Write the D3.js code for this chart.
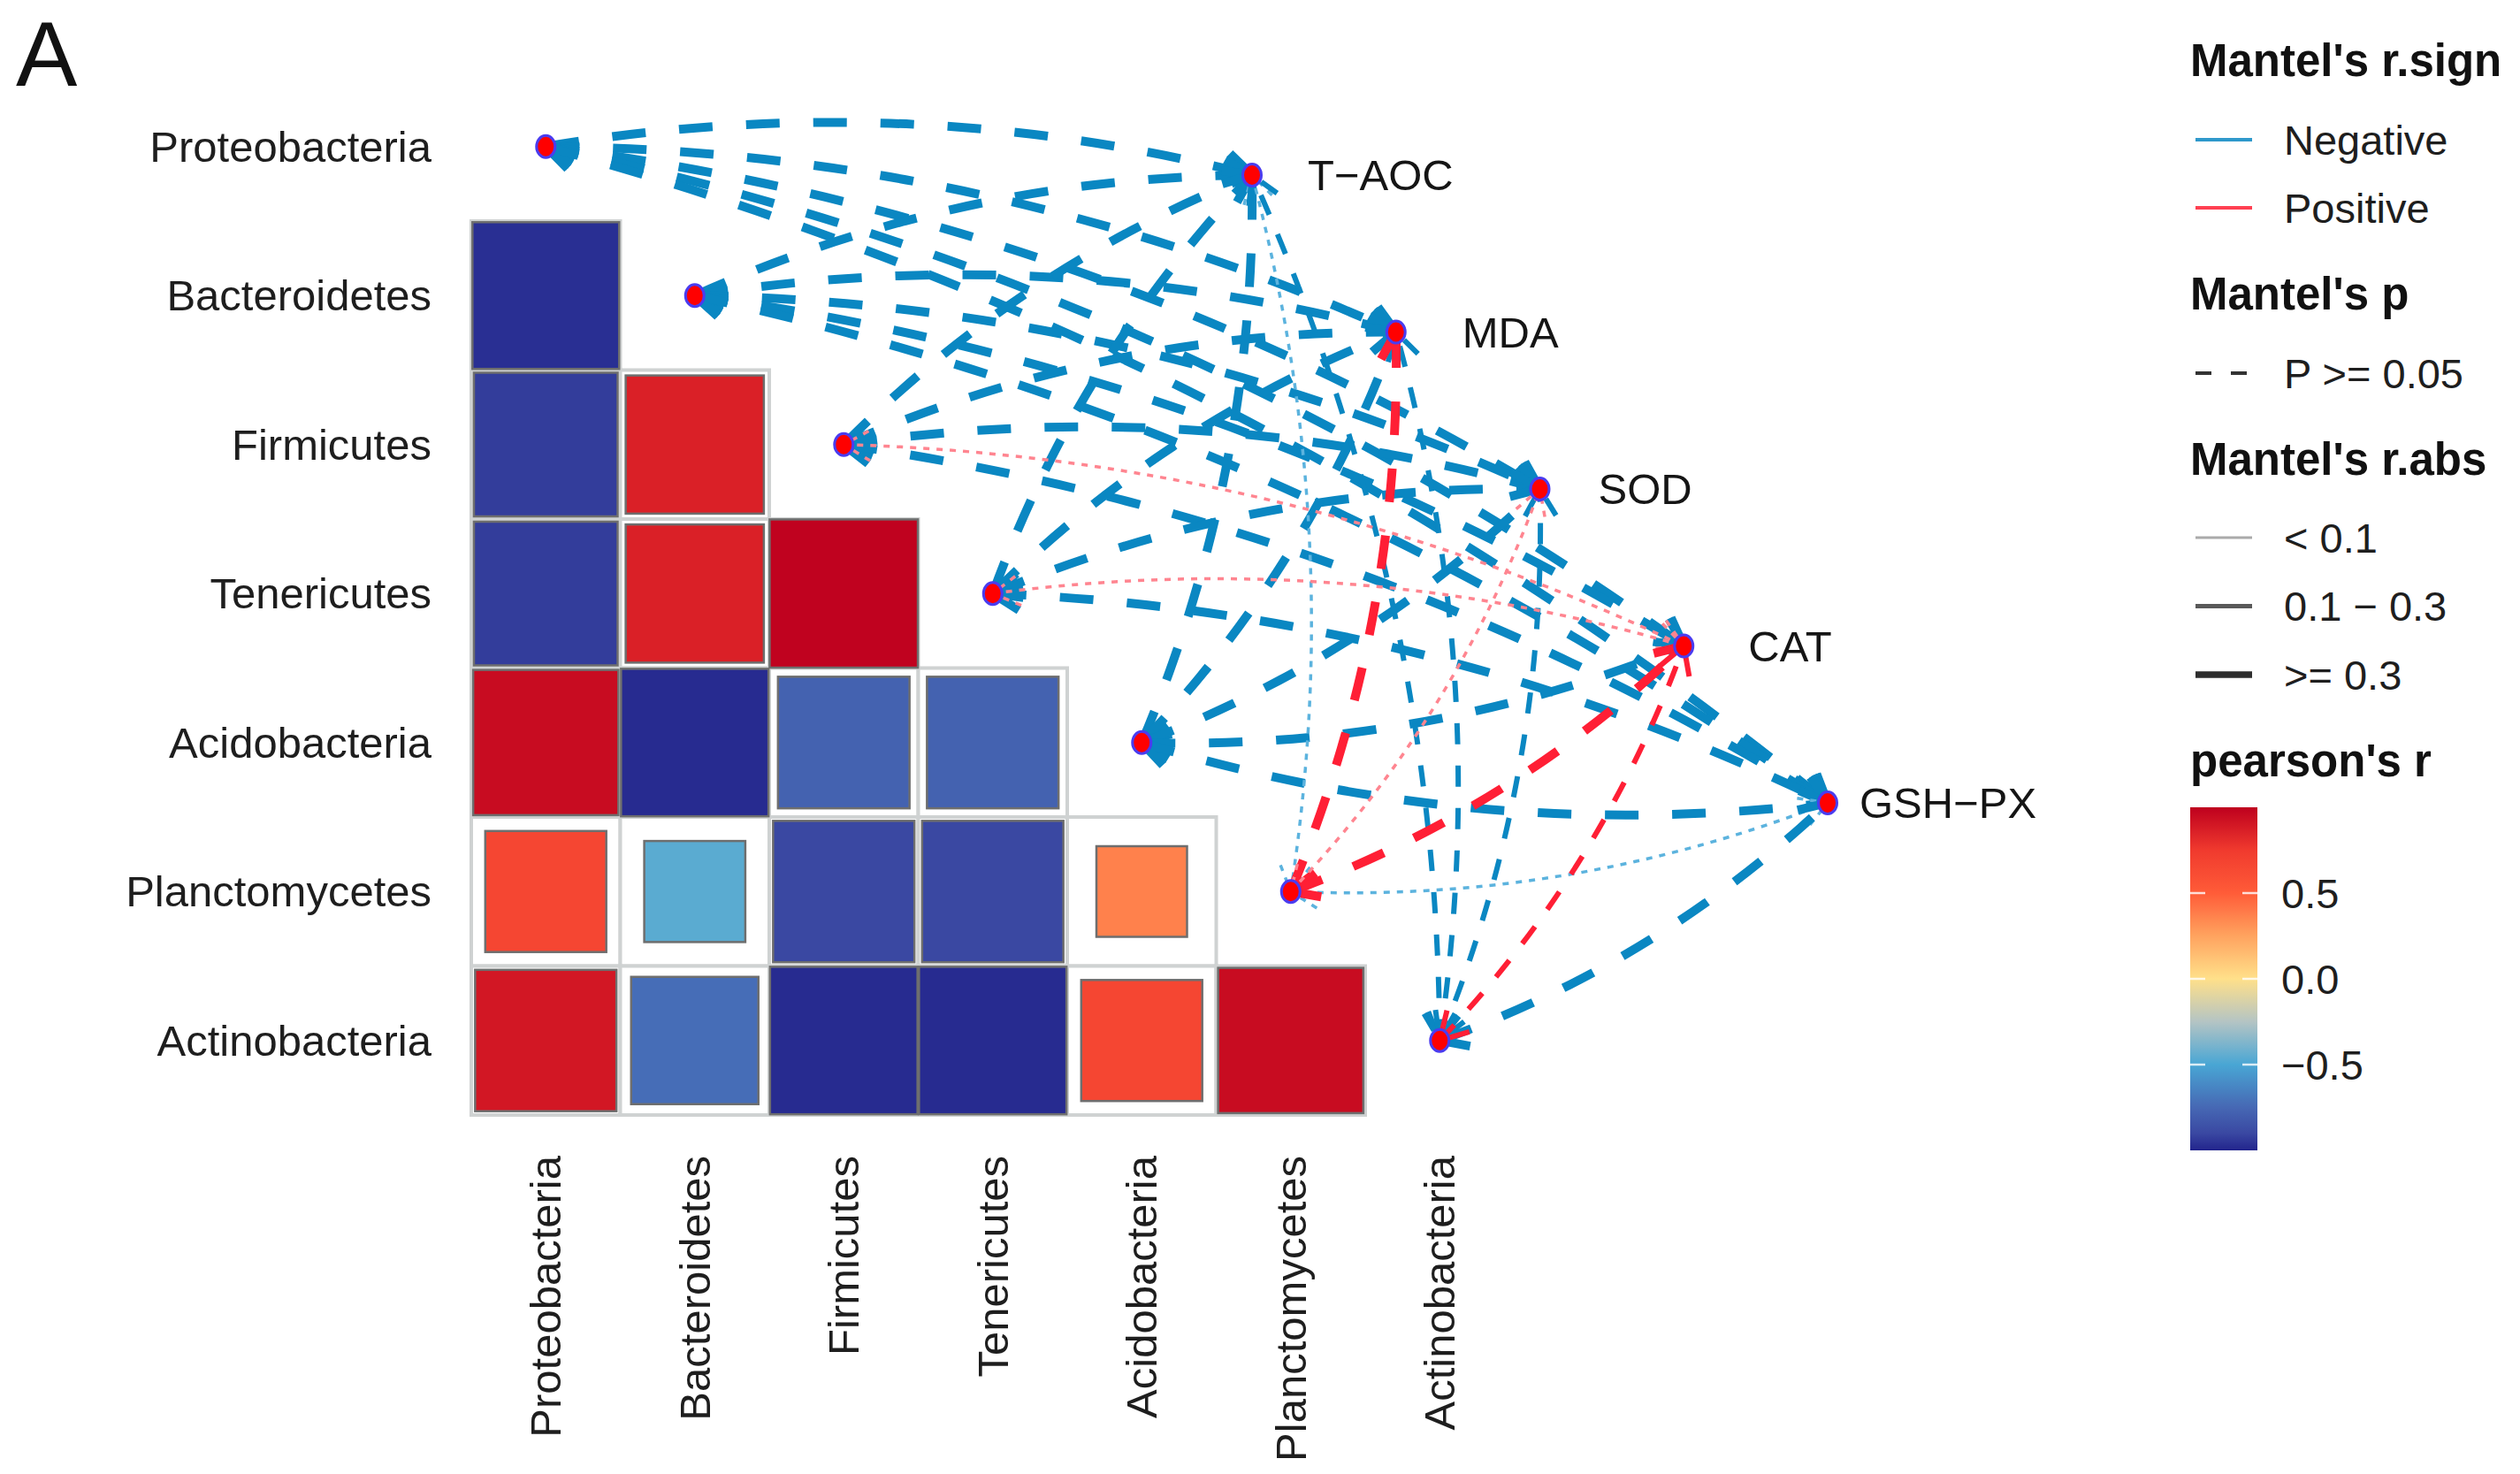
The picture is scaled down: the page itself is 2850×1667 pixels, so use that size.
<!DOCTYPE html>
<html>
<head>
<meta charset="utf-8">
<script src="https://cdn.jsdelivr.net/npm/d3@7"></script>
<style>
	body { margin: 0; background: #fff; }
	svg { display: block; font-family: "Liberation Sans", Arial, sans-serif; }
</style>
</head>
<body>
<svg id="chart" width="2850" height="1667"></svg>
<script>
var species = ["Proteobacteria", "Bacteroidetes", "Firmicutes", "Tenericutes", "Acidobacteria", "Planctomycetes", "Actinobacteria"];
var envFactors = ["T\u2212AOC", "MDA", "SOD", "CAT", "GSH\u2212PX"];

// pearson's r, lower triangle (row species x column species)
var corrRows = [
	[],
	[-0.97],
	[-0.93, 0.86],
	[-0.93, 0.86, 0.99],
	[0.95, -0.98, -0.78, -0.78],
	[0.66, -0.46, -0.90, -0.90, 0.37],
	[0.90, -0.73, -0.98, -0.98, 0.66, 0.95]
];

// mantel tests: one row per species, one entry per env factor
var signLabels = ["Negative", "Positive"];
var absLabels = ["< 0.1", "0.1 \u2212 0.3", ">= 0.3"];
var pLabels = ["P >= 0.05"];
var mantelSign = [
	[0, 0, 0, 0, 0],
	[0, 0, 0, 0, 0],
	[0, 0, 0, 1, 0],
	[0, 0, 0, 1, 0],
	[0, 0, 0, 0, 0],
	[0, 1, 1, 1, 0],
	[0, 0, 0, 1, 0]
];
var mantelAbs = [
	[2, 2, 2, 2, 2],
	[2, 2, 2, 2, 2],
	[2, 2, 2, 0, 2],
	[2, 2, 2, 0, 2],
	[2, 2, 2, 2, 2],
	[0, 2, 0, 2, 0],
	[1, 1, 1, 1, 2]
];
var colorTicks = [0.5, 0.0, -0.5];

(function(d3) {
	'use strict';

	var svg = d3.select('#chart');
	var cell = 168.5;
	var envLabelDx = [63, 75, 66, 73, 36];

	/** scales */
	var xBand = d3.scaleBand().domain(species).range([533, 533 + cell * species.length]);
	var yBand = d3.scaleBand().domain(species).range([81.5, 81.5 + cell * species.length]);
	var envX = d3.scalePoint().domain(envFactors).range([1416, 2067]);
	var envY = d3.scalePoint().domain(envFactors).range([198, 908]);
	var fill = d3.scaleLinear()
		.domain([-1, -0.9, -0.75, -0.5, -0.25, 0, 0.25, 0.5, 0.75, 1])
		.range(["#22248c", "#3a48a2", "#4668b4", "#49a6d4", "#b4c4c4", "#ffe08a", "#ffa35f", "#ff5c38", "#f03a2e", "#be001e"])
		.interpolate(d3.interpolateRgb).clamp(true);
	var side = d3.scaleSqrt().domain([0, 1]).range([0, cell]);
	var lineWidth = d3.scaleOrdinal().domain(absLabels).range([3.5, 6, 10]);
	var lineDash = d3.scaleOrdinal().domain(absLabels).range(["7,8", "24,24", "38,38"]);
	var lineColor = d3.scaleOrdinal().domain(signLabels).range(["#0a87c2", "#ff1f35"]);
	var thinColor = d3.scaleOrdinal().domain(signLabels).range(["#5cb3de", "#ff8590"]);

	var cx = function(s) { return xBand(s) + xBand.bandwidth() / 2; };
	var cy = function(s) { return yBand(s) + yBand.bandwidth() / 2; };

	/** panel label */
	svg.append('text').attr('x', 18).attr('y', 97).attr('font-size', 104).attr('fill', '#111').text('A');

	/** heatmap */
	var cells = [];
	corrRows.forEach(function(row, i) {
		row.forEach(function(r, j) {
			cells.push({ row: species[i], col: species[j], r: r });
		});
	});
	var heat = svg.append('g');
	heat.selectAll('rect.bg').data(cells).enter().append('rect')
		.attr('class', 'bg')
		.attr('x', function(d) { return xBand(d.col); })
		.attr('y', function(d) { return yBand(d.row); })
		.attr('width', cell).attr('height', cell)
		.attr('fill', '#fff').attr('stroke', '#cfd2d2').attr('stroke-width', 4);
	heat.selectAll('rect.sq').data(cells).enter().append('rect')
		.attr('class', 'sq')
		.attr('x', function(d) { return cx(d.col) - side(Math.abs(d.r)) / 2; })
		.attr('y', function(d) { return cy(d.row) - side(Math.abs(d.r)) / 2; })
		.attr('width', function(d) { return side(Math.abs(d.r)); })
		.attr('height', function(d) { return side(Math.abs(d.r)); })
		.attr('fill', function(d) { return fill(d.r); })
		.attr('stroke', '#6e6e6e').attr('stroke-width', 2.5);

	/** axis labels */
	svg.append('g').selectAll('text').data(species).enter().append('text')
		.attr('x', 488).attr('y', cy)
		.attr('text-anchor', 'end').attr('dominant-baseline', 'central')
		.attr('font-size', 49).attr('fill', '#1e1e1e')
		.text(function(d) { return d; });
	svg.append('g').selectAll('text').data(species).enter().append('text')
		.attr('transform', function(d) { return 'translate(' + cx(d) + ',1307) rotate(-90)'; })
		.attr('text-anchor', 'end').attr('dominant-baseline', 'central')
		.attr('font-size', 49).attr('fill', '#1e1e1e')
		.text(function(d) { return d; });

	/** mantel links */
	var links = [];
	mantelSign.forEach(function(row, i) {
		row.forEach(function(sign, j) {
			links.push({ spec: species[i], specIndex: i, env: envFactors[j], sign: signLabels[sign], abs: absLabels[mantelAbs[i][j]] });
		});
	});
	links.sort(function(a, b) { return d3.ascending(a.sign, b.sign); });

	var geometry = function(d) {
		var x0 = cx(d.spec), y0 = cy(d.spec), x1 = envX(d.env), y1 = envY(d.env);
		var dx = x1 - x0, dy = y1 - y0;
		// upper species bend to the left of their travel, lower ones to the right
		var k = d.specIndex < 4 ? 0.105 : -0.105;
		var qx = (x0 + x1) / 2 + dy * k, qy = (y0 + y1) / 2 - dx * k;
		return { x0: x0, y0: y0, x1: x1, y1: y1, qx: qx, qy: qy };
	};
	var curvePath = function(d) {
		var g = geometry(d);
		var p = d3.path();
		p.moveTo(g.x0, g.y0);
		p.quadraticCurveTo(g.qx, g.qy, g.x1, g.y1);
		return p.toString();
	};
	var arrowPath = function(tx, ty, fx, fy) {
		var a = Math.atan2(fy - ty, fx - tx), l = 35, w = Math.PI / 6;
		var p = d3.path();
		p.moveTo(tx + l * Math.cos(a + w), ty + l * Math.sin(a + w));
		p.lineTo(tx, ty);
		p.lineTo(tx + l * Math.cos(a - w), ty + l * Math.sin(a - w));
		return p.toString();
	};
	var strokeOf = function(d) { return d.abs === absLabels[0] ? thinColor(d.sign) : lineColor(d.sign); };

	var linkGroups = svg.append('g').selectAll('g').data(links).enter().append('g')
		.attr('fill', 'none')
		.attr('stroke', strokeOf)
		.attr('stroke-width', function(d) { return lineWidth(d.abs); })
		.attr('stroke-dasharray', function(d) { return lineDash(d.abs); });
	linkGroups.append('path').attr('d', curvePath);
	linkGroups.append('path').attr('d', function(d) {
		var g = geometry(d);
		return arrowPath(g.x0, g.y0, g.qx, g.qy);
	});
	linkGroups.append('path').attr('d', function(d) {
		var g = geometry(d);
		return arrowPath(g.x1, g.y1, g.qx, g.qy);
	});

	/** nodes */
	var nodes = species.map(function(s) { return { x: cx(s), y: cy(s) }; })
		.concat(envFactors.map(function(e) { return { x: envX(e), y: envY(e) }; }));
	svg.append('g').selectAll('ellipse').data(nodes).enter().append('ellipse')
		.attr('cx', function(d) { return d.x; }).attr('cy', function(d) { return d.y; })
		.attr('rx', 10.5).attr('ry', 12.5)
		.attr('fill', '#ff0000').attr('stroke', '#4a3cf0').attr('stroke-width', 3);
	svg.append('g').selectAll('text').data(envFactors).enter().append('text')
		.attr('x', function(d, i) { return envX(d) + envLabelDx[i]; })
		.attr('y', function(d) { return envY(d); })
		.attr('dominant-baseline', 'central')
		.attr('font-size', 49).attr('fill', '#151515')
		.text(function(d) { return d; });

	/** legend */
	var legend = svg.append('g').attr('font-size', 47).attr('fill', '#1e1e1e');
	var title = function(y, label) {
		legend.append('text').attr('x', 2477).attr('y', y)
			.attr('font-size', 51).attr('font-weight', 'bold').attr('fill', '#111').text(label);
	};
	var item = function(y, label) {
		legend.append('text').attr('x', 2583).attr('y', y).attr('dominant-baseline', 'central').text(label);
		return legend.append('line').attr('x1', 2483).attr('x2', 2547).attr('y1', y).attr('y2', y);
	};

	title(86, "Mantel's r.sign");
	signLabels.forEach(function(s, i) {
		item(158 + i * 77, s).attr('stroke', lineColor(s)).attr('stroke-width', 4).attr('opacity', 0.85);
	});
	title(350, "Mantel's p");
	pLabels.forEach(function(s, i) {
		item(422 + i * 77, s).attr('stroke', '#333').attr('stroke-width', 4).attr('stroke-dasharray', '18,22');
	});
	title(537, "Mantel's r.abs");
	var absGrey = d3.scaleOrdinal().domain(absLabels).range(['#aaaaaa', '#595959', '#2e2e2e']);
	var absWidth = d3.scaleOrdinal().domain(absLabels).range([3, 5, 7.5]);
	absLabels.forEach(function(s, i) {
		item(608 + i * 77.5, s).attr('stroke', absGrey(s)).attr('stroke-width', absWidth(s));
	});

	/** colour bar */
	title(878, "pearson's r");
	var barY = d3.scaleLinear().domain([-1, 1]).range([1301, 913]);
	var grad = svg.append('defs').append('linearGradient').attr('id', 'rbar')
		.attr('x1', 0).attr('x2', 0).attr('y1', 0).attr('y2', 1);
	d3.range(1, -1.0001, -0.05).forEach(function(v) {
		grad.append('stop').attr('offset', (1 - v) / 2).attr('stop-color', fill(v));
	});
	legend.append('rect').attr('x', 2477).attr('y', barY(1)).attr('width', 76)
		.attr('height', barY(-1) - barY(1)).attr('fill', 'url(#rbar)');
	var ticks = legend.append('g').selectAll('g').data(colorTicks).enter().append('g');
	ticks.append('line').attr('x1', 2477).attr('x2', 2494)
		.attr('y1', barY).attr('y2', barY).attr('stroke', '#fff').attr('stroke-width', 2.5).attr('opacity', 0.8);
	ticks.append('line').attr('x1', 2536).attr('x2', 2553)
		.attr('y1', barY).attr('y2', barY).attr('stroke', '#fff').attr('stroke-width', 2.5).attr('opacity', 0.8);
	ticks.append('text').attr('x', 2580).attr('y', barY).attr('dominant-baseline', 'central')
		.text(function(d) { return d3.format('.1f')(d).replace('-', '\u2212'); });
})(d3);
</script>
</body>
</html>
